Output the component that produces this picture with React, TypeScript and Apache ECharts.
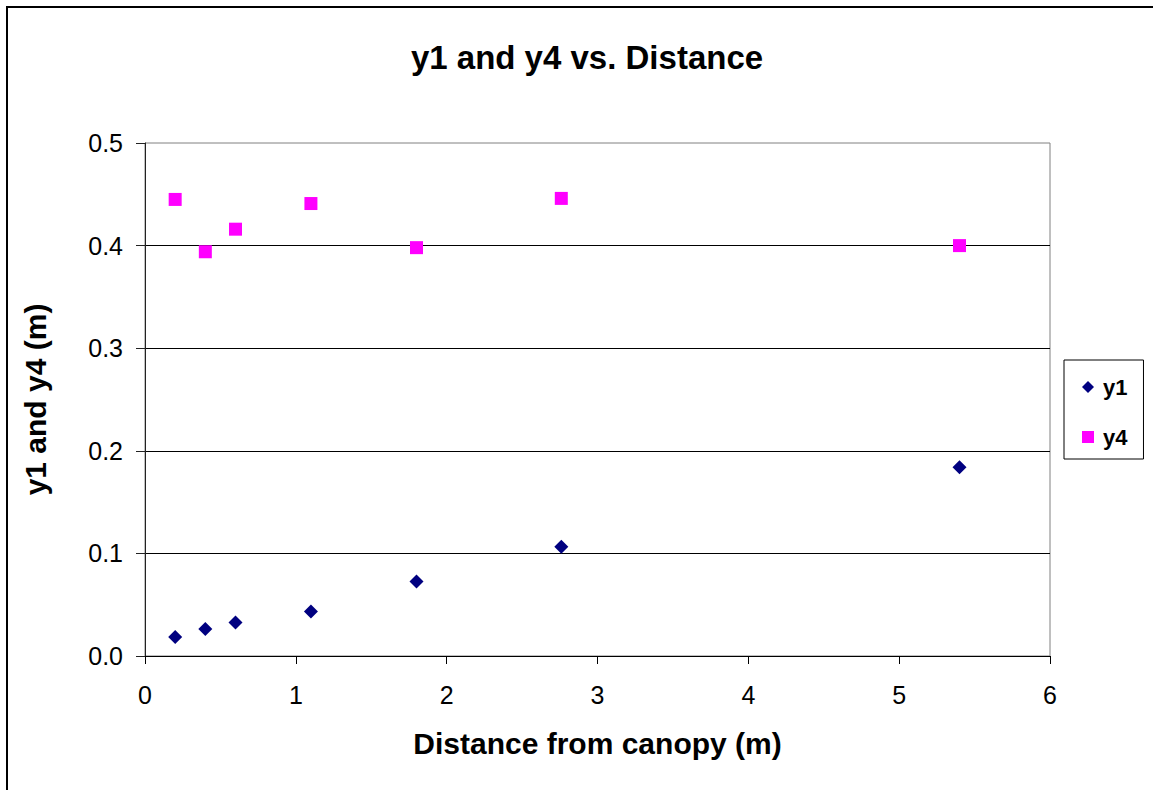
import React, { useEffect, useRef } from "react";
import * as echarts from "echarts";

const distances = [0.2, 0.4, 0.6, 1.1, 1.8, 2.76, 5.4];
const y1Values = [0.0185, 0.0263, 0.0327, 0.0434, 0.0726, 0.1066, 0.184];
const y4Values = [0.445, 0.394, 0.416, 0.441, 0.398, 0.446, 0.4];
const seriesNames = ["y1", "y4"];
const titleText = "y1 and y4 vs. Distance";
const xAxisTitle = "Distance from canopy (m)";
const yAxisTitle = "y1 and y4 (m)";

export default function App() {
  const ref = useRef<HTMLDivElement>(null);
  useEffect(() => {
    if (!ref.current) return;
    const chart = echarts.init(ref.current, undefined, { renderer: "svg" });
    const font = "'Liberation Sans', Arial, sans-serif";
    chart.setOption({
      animation: false,
      backgroundColor: "#fff",
      textStyle: { fontFamily: font },
      title: {
        text: titleText,
        left: 582,
        textAlign: "center",
        top: 36,
        textStyle: { fontSize: 33, fontWeight: "bold", color: "#000", fontFamily: font },
      },
      grid: {
        left: 145,
        top: 143,
        right: 103,
        bottom: 134,
        show: true,
        borderColor: "#808080",
        borderWidth: 1,
        backgroundColor: "transparent",
      },
      legend: {
        orient: "vertical",
        left: 1064,
        top: 360,
        padding: [15, 16, 10, 18],
        itemWidth: 12,
        itemHeight: 12,
        itemGap: 26,
        borderColor: "#000",
        borderWidth: 1,
        backgroundColor: "#fff",
        textStyle: {
          fontSize: 22,
          fontWeight: "bold",
          color: "#000",
          fontFamily: font,
          lineHeight: 24,
          padding: [0, 0, 0, 4],
        },
        data: [
          { name: seriesNames[0], icon: "diamond", itemStyle: { color: "#000080", opacity: 1 } },
          { name: seriesNames[1], icon: "rect", itemStyle: { color: "#FF00FF", opacity: 1 } },
        ],
      },
      xAxis: {
        type: "value",
        min: 0,
        max: 6,
        interval: 1,
        name: xAxisTitle,
        nameLocation: "middle",
        nameGap: 72,
        nameTextStyle: { fontSize: 30, fontWeight: "bold", color: "#000", fontFamily: font },
        axisLine: { show: true, onZero: false, lineStyle: { color: "#000", width: 1 } },
        axisTick: { show: true, length: 8, lineStyle: { color: "#000" } },
        axisLabel: { fontSize: 25, color: "#000", margin: 26, fontFamily: font },
        splitLine: { show: false },
      },
      yAxis: {
        type: "value",
        min: 0,
        max: 0.5,
        interval: 0.1,
        name: yAxisTitle,
        nameLocation: "middle",
        nameGap: 95,
        nameTextStyle: { fontSize: 30, fontWeight: "bold", color: "#000", fontFamily: font },
        axisLine: { show: true, onZero: false, lineStyle: { color: "#222", width: 1 } },
        axisTick: { show: true, length: 9, lineStyle: { color: "#222" } },
        axisLabel: {
          fontSize: 25,
          color: "#000",
          margin: 22,
          fontFamily: font,
          formatter: (v: number) => v.toFixed(1),
        },
        splitLine: {
          show: true,
          showMinLine: false,
          showMaxLine: false,
          lineStyle: { color: "#000", width: 1 },
        },
      },
      series: [
        {
          name: seriesNames[0],
          type: "scatter",
          symbol: "diamond",
          symbolSize: 14,
          itemStyle: { color: "#000080", opacity: 1 },
          data: distances.map((d, i) => [d, y1Values[i]]),
        },
        {
          name: seriesNames[1],
          type: "scatter",
          symbol: "rect",
          symbolSize: 13,
          itemStyle: { color: "#FF00FF", opacity: 1 },
          data: distances.map((d, i) => [d, y4Values[i]]),
        },
      ],
      graphic: [
        {
          type: "rect",
          shape: { x: 7, y: 7, width: 1200, height: 1000 },
          style: { fill: "none", stroke: "#000", lineWidth: 2 },
          silent: true,
          z: 100,
        },
      ],
    });
    return () => chart.dispose();
  }, []);
  return (
    <div
      ref={ref}
      style={{ position: "absolute", left: 0, top: 0, width: 1153, height: 790 }}
    />
  );
}
